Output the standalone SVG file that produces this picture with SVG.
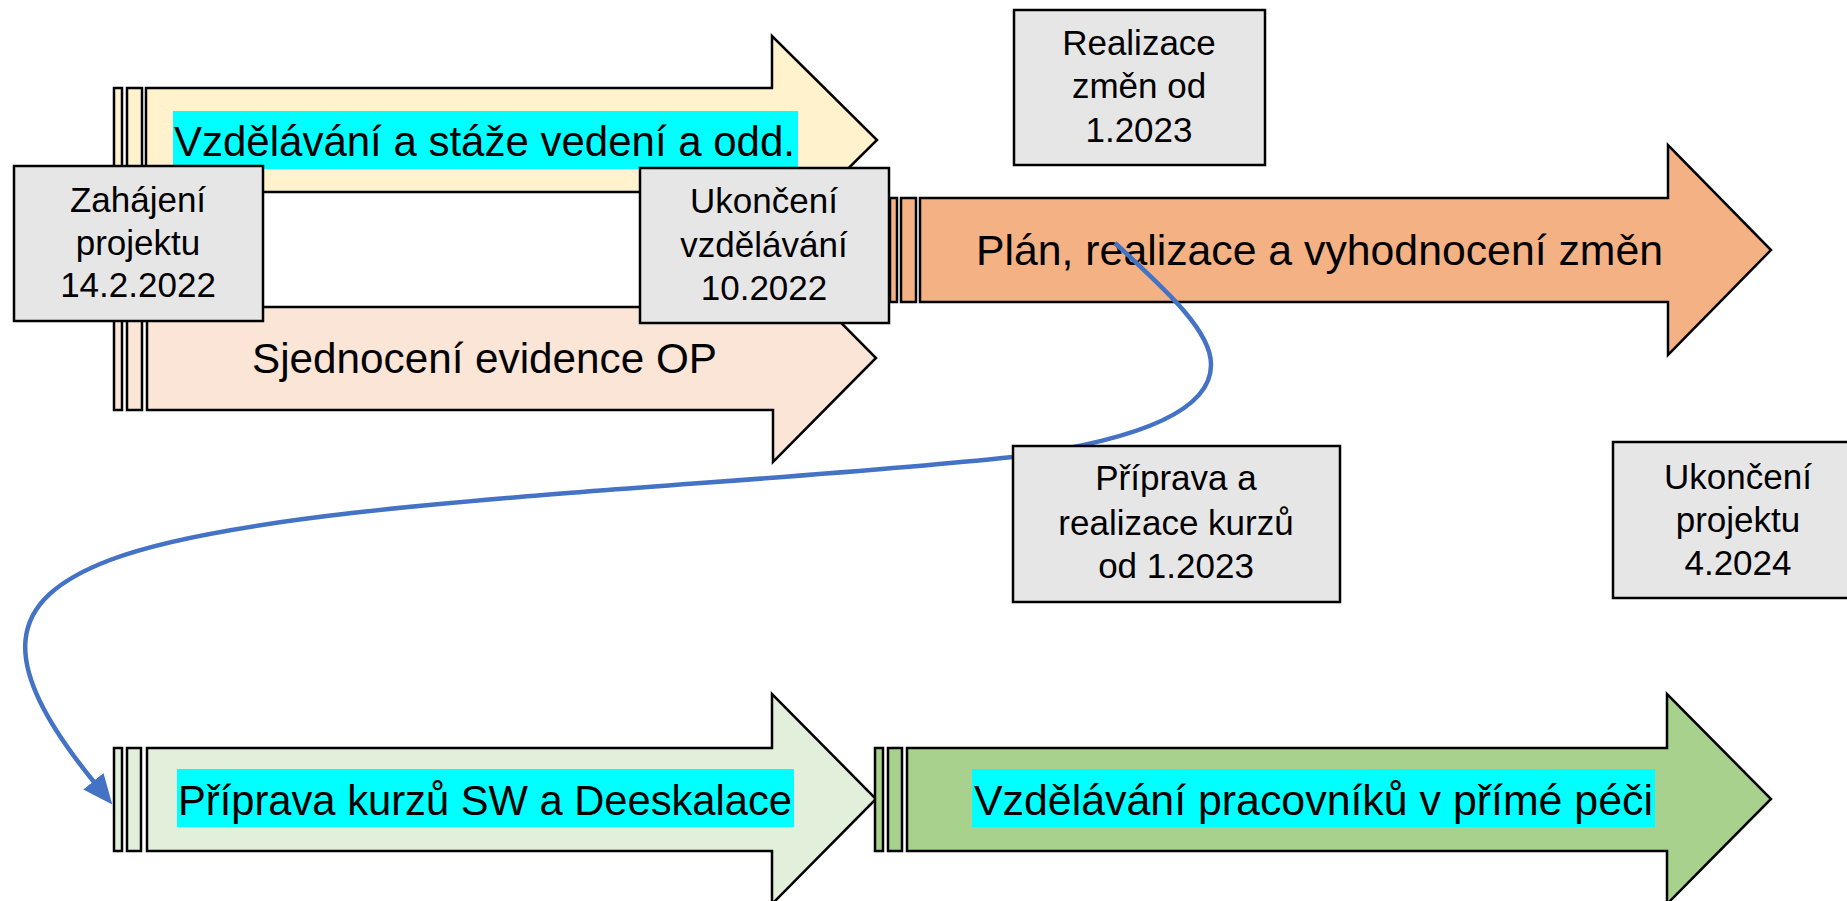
<svg xmlns="http://www.w3.org/2000/svg" width="1847" height="901" viewBox="0 0 1847 901">
<style>
  .shape { stroke: #000; stroke-width: 2.5; stroke-linejoin: miter; }
  .box { fill: #E7E6E6; stroke: #000; stroke-width: 2.5; }
  .hl { fill: #00FFFF; }
  .big { font-family: "Liberation Sans", Arial, sans-serif; font-size: 43px; fill: #000; }
  .lbl { font-family: "Liberation Sans", Arial, sans-serif; font-size: 35px; fill: #000; text-anchor: middle; }
  .yel { fill: #FFF2CC; }
  .pch { fill: #FBE5D6; }
  .org { fill: #F4B183; }
  .lgr { fill: #E2EFDA; }
  .dgr { fill: #A9D18E; }
  .conn { fill: none; stroke: #4472C4; stroke-width: 4.5; }
</style>
<defs>
  <marker id="ah" markerUnits="userSpaceOnUse" viewBox="0 0 30 26" refX="1" refY="13" markerWidth="30" markerHeight="26" orient="auto">
    <path d="M0,0 L30,13 L0,26 z" fill="#4472C4"/>
  </marker>
</defs>

<!-- Arrow: Vzdělávání a stáže -->
<g id="arrow-vzdelavani-staze">
  <rect class="shape yel" x="114" y="88" width="8" height="104"/>
  <rect class="shape yel" x="127" y="88" width="15" height="104"/>
  <polygon class="shape yel" points="146,88 772,88 772,36 877,140 772,244 772,192 146,192"/>
  <rect class="hl" x="173" y="111" width="625" height="58"/>
  <text class="big" x="174" y="156" textLength="621" lengthAdjust="spacingAndGlyphs">Vzdělávání a stáže vedení a odd.</text>
</g>

<!-- Arrow: Sjednocení evidence OP -->
<g id="arrow-sjednoceni">
  <rect class="shape pch" x="114" y="307" width="8" height="103"/>
  <rect class="shape pch" x="127" y="307" width="15" height="103"/>
  <polygon class="shape pch" points="147,307 773,307 773,254 876,358 773,462 773,410 147,410"/>
  <text class="big" x="252" y="373" textLength="465" lengthAdjust="spacingAndGlyphs">Sjednocení evidence OP</text>
</g>

<!-- Arrow: Plán, realizace a vyhodnocení změn -->
<g id="arrow-plan">
  <rect class="shape org" x="890" y="198" width="7" height="104"/>
  <rect class="shape org" x="901" y="198" width="15" height="104"/>
  <polygon class="shape org" points="920,198 1668,198 1668,145 1771,250 1668,355 1668,302 920,302"/>
  <text class="big" x="976" y="265" textLength="687" lengthAdjust="spacingAndGlyphs">Plán, realizace a vyhodnocení změn</text>
</g>

<!-- Arrow: Příprava kurzů SW a Deeskalace -->
<g id="arrow-priprava-kurzu">
  <rect class="shape lgr" x="114" y="748" width="8" height="103"/>
  <rect class="shape lgr" x="127" y="748" width="14" height="103"/>
  <polygon class="shape lgr" points="147,748 772,748 772,694 876,799 772,904 772,851 147,851"/>
  <rect class="hl" x="177" y="769" width="617" height="58"/>
  <text class="big" x="178" y="815" textLength="614" lengthAdjust="spacingAndGlyphs">Příprava kurzů SW a Deeskalace</text>
</g>

<!-- Arrow: Vzdělávání pracovníků v přímé péči -->
<g id="arrow-vzdelavani-pracovniku">
  <rect class="shape dgr" x="875" y="748" width="8" height="103"/>
  <rect class="shape dgr" x="888" y="748" width="14" height="103"/>
  <polygon class="shape dgr" points="907,748 1667,748 1667,694 1771,799 1667,904 1667,851 907,851"/>
  <rect class="hl" x="972" y="769" width="683" height="58"/>
  <text class="big" x="974" y="815" textLength="679" lengthAdjust="spacingAndGlyphs">Vzdělávání pracovníků v přímé péči</text>
</g>

<!-- Connectors -->
<g id="connectors">
  <path class="conn" marker-end="url(#ah)" d="M1115,243 C1160,285 1212,330 1211,365 C1211,410 1140,440 1013,457 C700,490 267,500 110,560 C5,600 -5,660 94,782"/>
</g>

<!-- Milestone boxes -->
<g id="box-zahajeni">
  <rect class="box" x="14" y="166" width="249" height="155"/>
  <text class="lbl" x="138" y="212">Zahájení</text>
  <text class="lbl" x="138" y="255">projektu</text>
  <text class="lbl" x="138" y="297">14.2.2022</text>
</g>

<g id="box-ukonceni-vzdelavani">
  <rect class="box" x="640" y="168" width="249" height="155"/>
  <text class="lbl" x="764" y="213">Ukončení</text>
  <text class="lbl" x="764" y="257">vzdělávání</text>
  <text class="lbl" x="764" y="300">10.2022</text>
</g>

<g id="box-realizace-zmen">
  <rect class="box" x="1014" y="10" width="251" height="155"/>
  <text class="lbl" x="1139" y="55">Realizace</text>
  <text class="lbl" x="1139" y="98">změn od</text>
  <text class="lbl" x="1139" y="142">1.2023</text>
</g>

<g id="box-priprava-realizace">
  <rect class="box" x="1013" y="446" width="327" height="156"/>
  <text class="lbl" x="1176" y="490">Příprava a</text>
  <text class="lbl" x="1176" y="535">realizace kurzů</text>
  <text class="lbl" x="1176" y="578">od 1.2023</text>
</g>

<g id="box-ukonceni-projektu">
  <rect class="box" x="1613" y="442" width="250" height="156"/>
  <text class="lbl" x="1738" y="489">Ukončení</text>
  <text class="lbl" x="1738" y="532">projektu</text>
  <text class="lbl" x="1738" y="575">4.2024</text>
</g>
</svg>
